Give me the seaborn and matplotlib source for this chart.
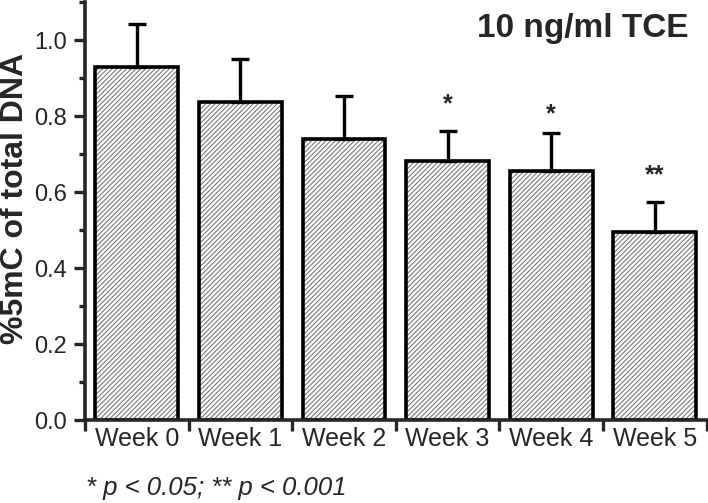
import matplotlib
matplotlib.use("Agg")
import matplotlib.pyplot as plt
import seaborn as sns
import pandas as pd
from matplotlib.ticker import MultipleLocator, FixedLocator

weeks = ["Week 0", "Week 1", "Week 2", "Week 3", "Week 4", "Week 5"]
mean_5mc = [0.930, 0.836, 0.739, 0.681, 0.654, 0.496]
sem_5mc = [0.111, 0.114, 0.114, 0.080, 0.102, 0.077]
stars = ["", "", "", "*", "*", "**"]
star_y = [0, 0, 0, 0.83, 0.805, 0.645]

df = pd.DataFrame({"week": weeks, "mc": mean_5mc})

sns.set_style("ticks")
plt.rcParams["font.family"] = ["Liberation Sans", "DejaVu Sans"]
plt.rcParams["hatch.linewidth"] = 0.8

fig = plt.figure(figsize=(7.08, 5.03), dpi=100)
ax = fig.add_axes([0.120, 0.165, 0.878, 0.831])

# hatched fill (hatch colour follows edgecolor), then black outline on top
sns.barplot(data=df, x="week", y="mc", color="white", edgecolor="#7a7a7a",
            linewidth=0, hatch="///////", width=0.8, ax=ax)
sns.barplot(data=df, x="week", y="mc", fill=False, color="black",
            linewidth=2.6, width=0.8, ax=ax)

ax.errorbar(range(len(weeks)), mean_5mc, yerr=[[0] * len(weeks), sem_5mc],
            fmt="none", ecolor="black", elinewidth=2.4, capsize=6.5, capthick=2.4,
            zorder=3)

for i, s in enumerate(stars):
    if s:
        ax.text(i, star_y[i], s, ha="center", va="center", fontsize=18,
                fontweight="bold")

ax.set_ylim(0, 1.1)
ax.set_xlim(-0.5, 5.5)
ax.yaxis.set_major_locator(MultipleLocator(0.2))
ax.yaxis.set_minor_locator(MultipleLocator(0.1))
ax.xaxis.set_minor_locator(FixedLocator([i - 0.5 for i in range(len(weeks) + 1)]))
ax.tick_params(axis="x", which="major", length=0, labelsize=18, pad=5)
ax.tick_params(axis="x", which="minor", length=8, width=2.4, direction="out")
ax.tick_params(axis="y", which="major", length=8, width=2.4, labelsize=17, pad=5)
ax.tick_params(axis="y", which="minor", length=4, width=2.4)
ax.set_yticklabels([f"{v:.1f}" for v in ax.get_yticks()])

for side in ["top", "right"]:
    ax.spines[side].set_visible(False)
for side in ["left", "bottom"]:
    ax.spines[side].set_linewidth(2.6)

ax.set_xlabel("")
ax.set_ylabel("%5mC of total DNA", fontsize=23, fontweight="bold")
ax.yaxis.set_label_coords(-0.088, 0.530)

fig.text(0.972, 0.944, "10 ng/ml TCE", ha="right", va="center", fontsize=24,
         fontweight="bold")
fig.text(0.122, 0.030, "* p < 0.05; ** p < 0.001", ha="left", va="center",
         fontsize=18.5, style="italic")

fig.savefig("out.png", dpi=100)
